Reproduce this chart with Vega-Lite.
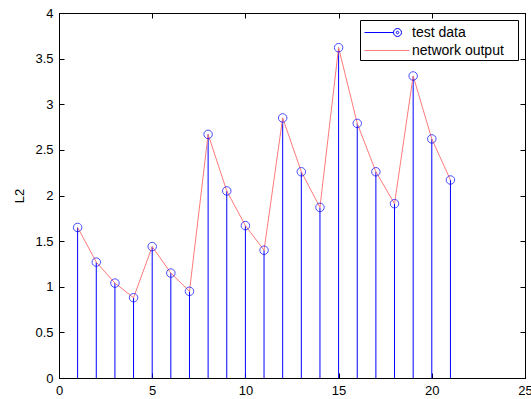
{
  "$schema": "https://vega.github.io/schema/vega-lite/v6.json",
  "width": 466,
  "height": 365,
  "autosize": {"type": "none"},
  "padding": {"left": 59, "top": 13, "right": 6, "bottom": 21},
  "background": "white",
  "config": {
    "view": {"stroke": "black", "strokeWidth": 1},
    "font": "Liberation Sans",
    "axis": {
      "grid": false,
      "domainColor": "black",
      "tickColor": "black",
      "tickSize": -5,
      "labelColor": "black",
      "labelFont": "Liberation Sans",
      "labelFontSize": 13,
      "titleFont": "Liberation Sans",
      "titleFontSize": 13,
      "titleFontWeight": "normal",
      "titleColor": "black"
    }
  },
  "data": {
    "values": [
      {"x": 1, "test": 1.65, "output": 1.65},
      {"x": 2, "test": 1.27, "output": 1.27},
      {"x": 3, "test": 1.04, "output": 1.04},
      {"x": 4, "test": 0.88, "output": 0.88},
      {"x": 5, "test": 1.44, "output": 1.44},
      {"x": 6, "test": 1.15, "output": 1.15},
      {"x": 7, "test": 0.95, "output": 0.95},
      {"x": 8, "test": 2.67, "output": 2.67},
      {"x": 9, "test": 2.05, "output": 2.05},
      {"x": 10, "test": 1.67, "output": 1.67},
      {"x": 11, "test": 1.40, "output": 1.40},
      {"x": 12, "test": 2.85, "output": 2.85},
      {"x": 13, "test": 2.26, "output": 2.26},
      {"x": 14, "test": 1.87, "output": 1.87},
      {"x": 15, "test": 3.62, "output": 3.62},
      {"x": 16, "test": 2.79, "output": 2.79},
      {"x": 17, "test": 2.26, "output": 2.26},
      {"x": 18, "test": 1.91, "output": 1.91},
      {"x": 19, "test": 3.31, "output": 3.31},
      {"x": 20, "test": 2.62, "output": 2.62},
      {"x": 21, "test": 2.17, "output": 2.17}
    ]
  },
  "layer": [
    {
      "mark": {"type": "rule", "color": "#0000ff", "strokeWidth": 1},
      "encoding": {
        "x": {"field": "x", "type": "quantitative", "scale": {"domain": [0, 25], "nice": false}, "axis": {"values": [0, 5, 10, 15, 20, 25], "title": null, "labelPadding": 11, "labelFlush": false}},
        "y": {"field": "test", "type": "quantitative", "scale": {"domain": [0, 4], "nice": false}, "axis": {"values": [0, 0.5, 1, 1.5, 2, 2.5, 3, 3.5, 4], "format": "~g", "title": "L2", "labelPadding": 11, "titlePadding": 8}},
        "y2": {"datum": 0}
      }
    },
    {
      "mark": {"type": "line", "strokeWidth": 1},
      "encoding": {
        "x": {"field": "x", "type": "quantitative", "axis": null},
        "y": {"field": "output", "type": "quantitative", "axis": null},
        "color": {
          "datum": "network output",
          "type": "nominal",
          "scale": {"domain": ["test data", "network output"], "range": ["#0000ff", "#ff7a7a"]},
          "legend": {
            "title": null,
            "orient": "top-right",
            "offset": 7,
            "strokeColor": "black",
            "fillColor": "white",
            "padding": 2,
            "rowPadding": 0,
            "symbolSize": 400,
            "symbolStrokeWidth": 1,
            "symbolFillColor": "transparent",
            "labelFont": "Liberation Sans",
            "labelFontSize": 14,
            "labelColor": "black",
            "labelOffset": 29,
            "encode": {
              "symbols": {
                "update": {
                  "shape": {"signal": "datum.value === 'test data' ? 'M-1.5,0L-1.5,0M14.1,0L14.1,0M-0.8,0H2.1M2.9,0A0.4,0.4 0 1,1 2.1,0A0.4,0.4 0 1,1 2.9,0M2.625,0A0.125,0.125 0 1,1 2.375,0A0.125,0.125 0 1,1 2.625,0' : 'M-1.5,0L-1.5,0M14.1,0L14.1,0M-0.8,0H3.7'"},
                  "fill": {"value": "transparent"}
                }
              }
            }
          }
        }
      }
    },
    {
      "mark": {"type": "point", "shape": "circle", "filled": false, "size": 72, "strokeWidth": 1},
      "encoding": {
        "x": {"field": "x", "type": "quantitative", "axis": null},
        "y": {"field": "test", "type": "quantitative", "axis": null},
        "color": {"datum": "test data", "type": "nominal"}
      }
    },
    {
      "mark": {"type": "point", "opacity": 0},
      "encoding": {
        "x": {"field": "x", "type": "quantitative", "axis": {"orient": "top", "values": [0, 5, 10, 15, 20, 25], "labels": false, "title": null}},
        "y": {"field": "test", "type": "quantitative", "axis": {"orient": "right", "values": [0, 0.5, 1, 1.5, 2, 2.5, 3, 3.5, 4], "labels": false, "title": null}}
      }
    }
  ],
  "resolve": {"axis": {"x": "independent", "y": "independent"}}
}
